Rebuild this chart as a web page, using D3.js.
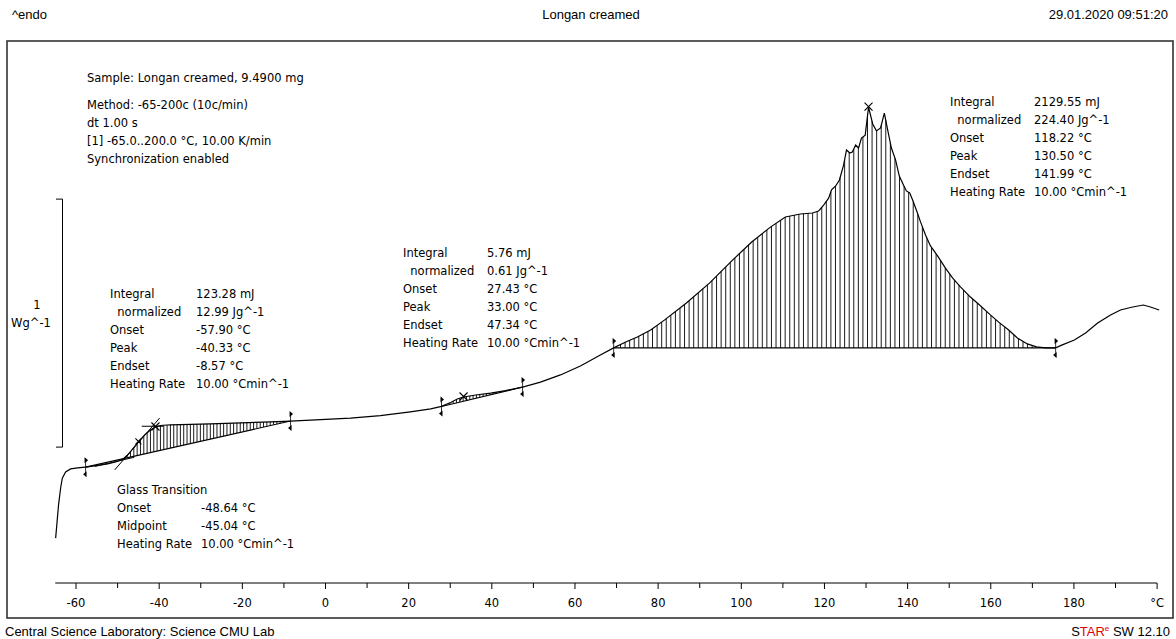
<!DOCTYPE html>
<html><head><meta charset="utf-8">
<script src="https://cdn.jsdelivr.net/npm/d3@7"></script>
<style>body{margin:0;background:#fff}svg{display:block}</style>
</head><body>
<script>
// ---- data ----
const temps = [-64.9,-64.2,-63.7,-63.3,-62.5,-61.3,-59.6,-57.2,-54.8,-52.4,-50.5,-48.8,-47.6,-46.4,-45.0,-43.5,-42.1,-40.9,-39.7,-37.3,-32.5,-27.7,-20.4,-13.2,-8.4,-1.2,6.0,13.2,20.4,25.3,27.9,30.1,31.7,33.2,36.1,39.7,43.3,47.4,51.7,56.5,61.3,66.1,69.3,72.2,75.0,78.2,81.5,86.8,92.4,97.9,102.5,107.0,110.6,114.2,117.1,118.6,119.8,121.0,121.7,122.7,123.6,124.6,125.3,126.1,126.7,127.5,128.2,128.9,129.8,130.6,131.6,132.5,133.5,134.4,135.2,136.1,137.1,138.0,139.0,139.7,140.5,141.2,142.1,143.1,144.3,145.5,147.2,149.1,150.8,152.7,155.1,157.3,159.9,161.9,164.3,166.4,168.8,171.0,173.2,175.6,177.2,180.1,182.8,185.7,188.8,191.2,194.1,196.7,198.4,200.5];
const heatFlow = [0.181,0.315,0.383,0.423,0.448,0.460,0.464,0.468,0.474,0.480,0.488,0.498,0.516,0.540,0.569,0.597,0.617,0.629,0.635,0.638,0.640,0.642,0.646,0.650,0.653,0.659,0.665,0.675,0.690,0.702,0.712,0.728,0.742,0.750,0.758,0.766,0.776,0.790,0.810,0.839,0.875,0.919,0.948,0.972,0.992,1.020,1.060,1.129,1.210,1.302,1.375,1.435,1.476,1.488,1.492,1.500,1.524,1.552,1.585,1.601,1.625,1.685,1.746,1.734,1.738,1.766,1.754,1.794,1.806,1.919,1.851,1.823,1.835,1.895,1.827,1.754,1.706,1.641,1.605,1.581,1.573,1.544,1.504,1.456,1.403,1.359,1.319,1.270,1.230,1.194,1.153,1.121,1.081,1.052,1.020,0.988,0.964,0.952,0.948,0.948,0.960,0.980,1.008,1.048,1.081,1.101,1.113,1.121,1.113,1.101];

const integralLimits = [[-57.7,-8.4],[27.9,47.4],[69.3,175.6]];
const hatchStep = [0.8,0.8,1.1];
const peakTemps = [-40.9,33.2,130.6];
const midpointTemp = -45.0;

const xTicks = [-60,-40,-20,0,20,40,60,80,100,120,140,160,180,200];
const xTickLabels = ["-60","-40","-20","0","20","40","60","80","100","120","140","160","180","°C"];
const minorTicks = [-50,-30,-10,10,30,50,70,90,110,130,150,170,190];

const scaleBar = [0.548,1.548];

const sampleInfo = ["Sample: Longan creamed, 9.4900 mg"];
const methodInfo = ["Method: -65-200c (10c/min)","dt 1.00 s","[1] -65.0..200.0 °C, 10.00 K/min","Synchronization enabled"];
const resLabels = ["Integral","  normalized","Onset","Peak","Endset","Heating Rate"];
const res1 = ["123.28 mJ","12.99 Jg^-1","-57.90 °C","-40.33 °C","-8.57 °C","10.00 °Cmin^-1"];
const res2 = ["5.76 mJ","0.61 Jg^-1","27.43 °C","33.00 °C","47.34 °C","10.00 °Cmin^-1"];
const res3 = ["2129.55 mJ","224.40 Jg^-1","118.22 °C","130.50 °C","141.99 °C","10.00 °Cmin^-1"];
const gtLabels = ["Glass Transition","Onset","Midpoint","Heating Rate"];
const gtValues = ["","-48.64 °C","-45.04 °C","10.00 °Cmin^-1"];

// ---- drawing ----
const W=1176,H=639;
const svg=d3.select("body").append("svg").attr("width",W).attr("height",H);
const x=d3.scaleLinear().domain([0,20]).range([325.5,408.66]);
const y=d3.scaleLinear().domain([0,1]).range([583,335]);
const data=temps.map((t,i)=>({t,v:heatFlow[i]}));
const interp=t=>{
  let i=d3.bisector(d=>d.t).right(data,t);
  if(i<=0) return data[0].v; if(i>=data.length) return data[data.length-1].v;
  const a=data[i-1],b=data[i]; return a.v+(b.v-a.v)*(t-a.t)/(b.t-a.t);
};
const anno="'DejaVu Sans', Verdana, sans-serif";
const head="'Liberation Sans', Arial, sans-serif";

// header
svg.append("text").attr("x",12).attr("y",19).attr("font-family",head).attr("font-size",13).text("^endo");
svg.append("text").attr("x",591).attr("y",19).attr("text-anchor","middle").attr("font-family",head).attr("font-size",13).text("Longan creamed");
svg.append("text").attr("x",1168).attr("y",19).attr("text-anchor","end").attr("font-family",head).attr("font-size",13).text("29.01.2020 09:51:20");

// frame
svg.append("rect").attr("x",7).attr("y",41).attr("width",1166).attr("height",577).attr("fill","none").attr("stroke","#333").attr("stroke-width",1.6);

// footer
svg.append("text").attr("x",5).attr("y",636).attr("font-family",head).attr("font-size",13).text("Central Science Laboratory: Science CMU Lab");
const st=svg.append("text").attr("x",1170).attr("y",636).attr("text-anchor","end").attr("font-family",head).attr("font-size",13);
st.append("tspan").text("S");
st.append("tspan").attr("fill","#e00000").text("TAR");
st.append("tspan").attr("fill","#e00000").attr("font-size",8).attr("dy",-5).text("e");
st.append("tspan").attr("dy",5).text(" SW 12.10");

// x axis
const axisY=583;
const ax=svg.append("g").attr("stroke","#000").attr("stroke-width",1);
ax.append("line").attr("x1",x(-65)).attr("x2",x(200)).attr("y1",axisY).attr("y2",axisY);
ax.selectAll(".maj").data(xTicks).enter().append("line").attr("x1",d=>x(d)).attr("x2",d=>x(d)).attr("y1",axisY).attr("y2",axisY+6);
ax.selectAll(".min").data(minorTicks).enter().append("line").attr("x1",d=>x(d)).attr("x2",d=>x(d)).attr("y1",axisY).attr("y2",axisY+5);
svg.selectAll(".xl").data(xTicks).enter().append("text").attr("x",d=>x(d)).attr("y",607).attr("text-anchor","middle")
  .attr("font-family",anno).attr("font-size",11.5).text((d,i)=>xTickLabels[i]);

// scale bar
const sb=svg.append("g").attr("stroke","#000").attr("stroke-width",1).attr("fill","none");
sb.append("path").attr("d",`M56,${y(scaleBar[1])}H62.5V${y(scaleBar[0])}H56`);
svg.append("text").attr("x",37).attr("y",309).attr("text-anchor","middle").attr("font-family",anno).attr("font-size",11.5).text("1");
svg.append("text").attr("x",31).attr("y",327).attr("text-anchor","middle").attr("font-family",anno).attr("font-size",11.5).text("Wg^-1");

// hatching and baselines
integralLimits.forEach((lim,k)=>{
  const t0=lim[0],t1=lim[1],v0=interp(t0),v1=interp(t1);
  const base=t=>v0+(v1-v0)*(t-t0)/(t1-t0);
  const g=svg.append("g").attr("stroke","#000").attr("stroke-width",0.9);
  for(let t=t0+hatchStep[k]/2;t<t1;t+=hatchStep[k]){
    const c=interp(t),b=base(t);
    if(c>b+0.004) g.append("line").attr("x1",x(t)).attr("x2",x(t)).attr("y1",y(b)).attr("y2",y(c));
  }
  svg.append("line").attr("x1",x(t0)).attr("x2",x(t1)).attr("y1",y(v0)).attr("y2",y(v1)).attr("stroke","#000").attr("stroke-width",1.1);
  // limit markers
  [[t0,v0],[t1,v1]].forEach(([t,v])=>{
    const px=x(t),py=y(v);
    svg.append("path").attr("d",`M${px-1},${py-10}L${px+2.5},${py-7}L${px-1},${py-4}Z`).attr("fill","#000");
    svg.append("path").attr("d",`M${px+1},${py+4}L${px-2.5},${py+7}L${px+1},${py+10}Z`).attr("fill","#000");
    svg.append("line").attr("x1",px).attr("x2",px).attr("y1",py-9).attr("y2",py+9).attr("stroke","#000").attr("stroke-width",0.8);
  });
});

// glass transition tangents
const tg=svg.append("g").attr("stroke","#000").attr("stroke-width",1);
tg.append("line").attr("x1",x(-50.7)).attr("y1",y(0.456)).attr("x2",x(-39.9)).attr("y2",y(0.665));
tg.append("line").attr("x1",x(-44.2)).attr("y1",y(0.632)).attr("x2",x(-39.0)).attr("y2",y(0.632));
tg.append("line").attr("x1",x(-55.5)).attr("y1",y(0.470)).attr("x2",x(-46.0)).attr("y2",y(0.507));

// curve
svg.append("path").datum(data).attr("fill","none").attr("stroke","#000").attr("stroke-width",1.2)
  .attr("d",d3.line().x(d=>x(d.t)).y(d=>y(d.v)));

// peak crosses
const cross=(t,s)=>{const px=x(t),py=y(interp(t))-0.5;
  svg.append("path").attr("d",`M${px-s},${py-s}L${px+s},${py+s}M${px-s},${py+s}L${px+s},${py-s}`).attr("stroke","#000").attr("stroke-width",1.1);};
peakTemps.forEach(t=>cross(t,4));
cross(midpointTemp,3);

// text blocks
const block=(lines,x0,y0,dy)=>lines.forEach((s,i)=>svg.append("text").attr("x",x0).attr("y",y0+i*dy).attr("font-family",anno).attr("font-size",11.5).attr("xml:space","preserve").style("white-space","pre").text(s));
block(sampleInfo,87,82,18);
block(methodInfo,87,109,18);
block(resLabels,110,298,17.9); block(res1,196,298,17.9);
block(resLabels,403,257,17.9); block(res2,487,257,17.9);
block(resLabels,950,106,17.9); block(res3,1034,106,17.9);
block(gtLabels,117,494,18); block(gtValues,201,494,18);
</script>
</body></html>
